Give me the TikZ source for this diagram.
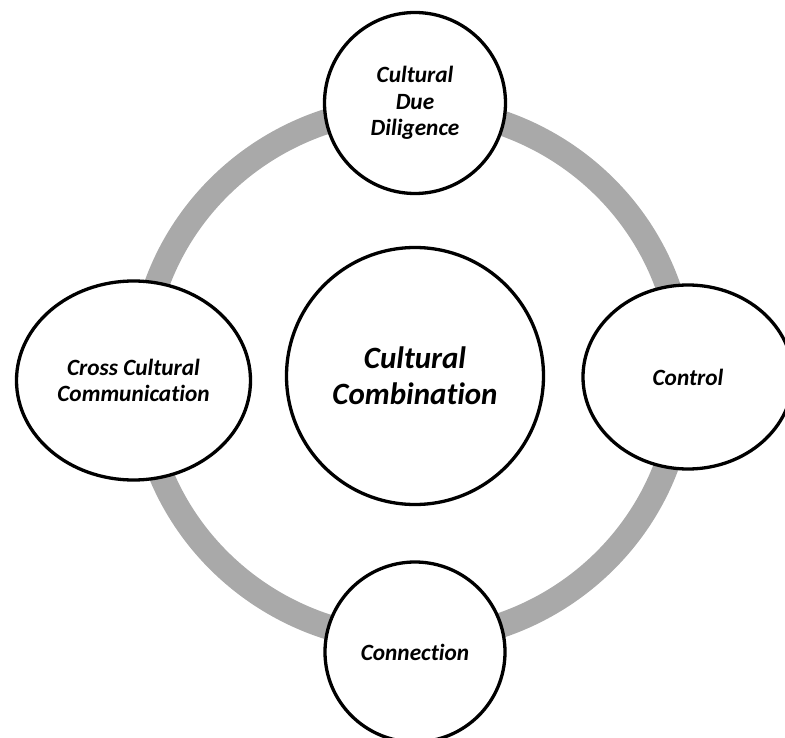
\documentclass[tikz,border=0pt]{standalone}
\usepackage{fontspec}
\setmainfont{Carlito}[Ligatures={NoCommon}]
\usetikzlibrary{shapes.geometric}
\definecolor{ringgray}{RGB}{169,169,169}
\begin{document}
\begin{tikzpicture}[x=1pt,y=-1pt,
  stage/.style={ellipse, draw=black, line width=3.3pt, fill=white,
    inner sep=0pt, align=center,
    font=\bfseries\itshape\fontsize{23.3}{26.5}\selectfont},
  hub/.style={stage, font=\bfseries\itshape\fontsize{31}{36}\selectfont}]
\clip (0,0) rectangle (785,738);
% gray cycle ring behind the stages
\coordinate (ringc) at (412,374);
\draw[ringgray, line width=25pt] (ringc) ellipse [x radius=271, y radius=266];
% central hub
\node[hub, minimum width=257pt, minimum height=257pt] (combo) at (415,376)
  {Cultural\\Combination};
% stages around the ring
\node[stage, minimum width=181pt, minimum height=181pt] (diligence) at (415,103)
  {Cultural\\Due\\Diligence};
\node[stage, minimum width=210pt, minimum height=184pt] (control) at (688,377)
  {Control};
\node[stage, minimum width=180pt, minimum height=180pt] (connection) at (415,652)
  {Connection};
\node[stage, minimum width=234pt, minimum height=199pt] (crosscomm) at (133.5,380.5)
  {Cross Cultural\\Communication};
\end{tikzpicture}
\end{document}
